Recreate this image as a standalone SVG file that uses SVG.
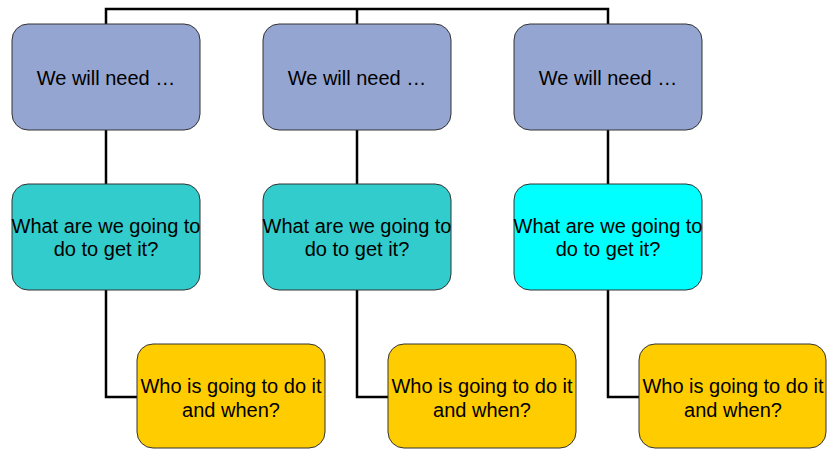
<svg xmlns="http://www.w3.org/2000/svg" width="827" height="450" viewBox="0 0 827 450">
<style>
.box{stroke:#333;stroke-width:1}
.b1{fill:#95A5D1}
.b2{fill:#33CCCC}
.b2c{fill:#00FFFF}
.b3{fill:#FFCC00}
.t{font-family:"Liberation Sans",Arial,sans-serif;font-size:20px;fill:#000;text-anchor:middle}
.c{fill:none;stroke:#000;stroke-width:2.5}
</style>
<rect width="827" height="450" fill="#fff"/>
<g id="connectors">
<path class="c" d="M106,24 V9 H608 V24"/>
<path class="c" d="M357,9 V24"/>
<path class="c" d="M106,130 V184"/>
<path class="c" d="M357,130 V184"/>
<path class="c" d="M608,130 V184"/>
<path class="c" d="M106,290 V397 H137"/>
<path class="c" d="M357,290 V397 H388"/>
<path class="c" d="M608,290 V397 H639"/>
</g>
<g id="need1"><rect class="box b1" x="12" y="24" width="188" height="106" rx="16"/><text class="t" x="106" y="85">We will need …</text></g>
<g id="need2"><rect class="box b1" x="263" y="24" width="188" height="106" rx="16"/><text class="t" x="357" y="85">We will need …</text></g>
<g id="need3"><rect class="box b1" x="514" y="24" width="188" height="106" rx="16"/><text class="t" x="608" y="85">We will need …</text></g>
<g id="what1"><rect class="box b2" x="12" y="184" width="188" height="106" rx="16"/><text class="t" x="106" y="233">What are we going to</text><text class="t" x="106" y="256">do to get it?</text></g>
<g id="what2"><rect class="box b2" x="263" y="184" width="188" height="106" rx="16"/><text class="t" x="357" y="233">What are we going to</text><text class="t" x="357" y="256">do to get it?</text></g>
<g id="what3"><rect class="box b2c" x="514" y="184" width="188" height="106" rx="16"/><text class="t" x="608" y="233">What are we going to</text><text class="t" x="608" y="256">do to get it?</text></g>
<g id="who1"><rect class="box b3" x="137" y="344" width="188" height="104" rx="16"/><text class="t" x="231" y="393">Who is going to do it</text><text class="t" x="231" y="417">and when?</text></g>
<g id="who2"><rect class="box b3" x="388" y="344" width="188" height="104" rx="16"/><text class="t" x="482" y="393">Who is going to do it</text><text class="t" x="482" y="417">and when?</text></g>
<g id="who3"><rect class="box b3" x="639" y="344" width="187" height="104" rx="16"/><text class="t" x="733" y="393">Who is going to do it</text><text class="t" x="733" y="417">and when?</text></g>
</svg>
